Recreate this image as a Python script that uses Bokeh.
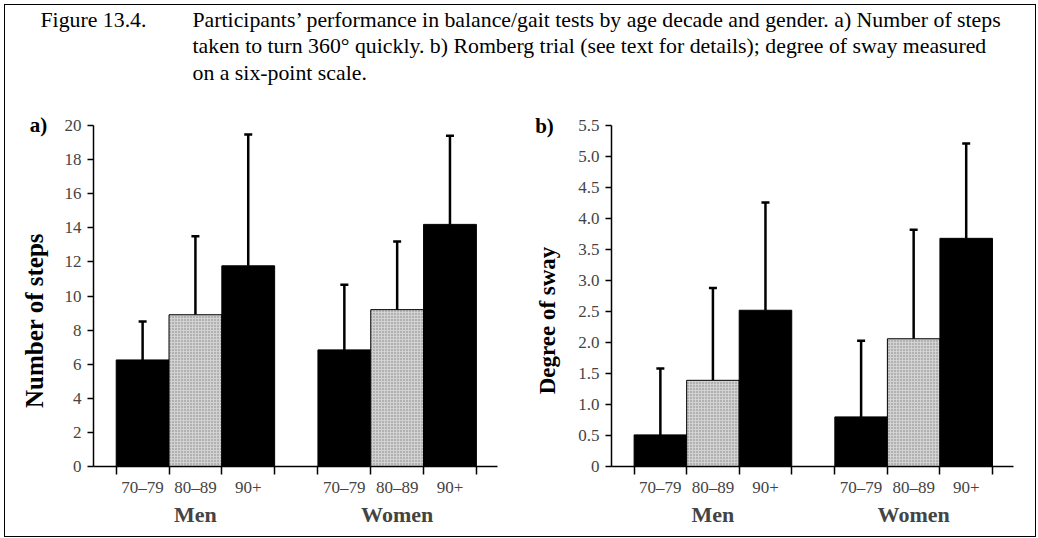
import math
from bokeh.plotting import figure
from bokeh.models import (Range1d, FixedTicker, LinearAxis, Whisker, TeeHead,
                          ColumnDataSource)
from bokeh.layouts import column, row
from bokeh.embed import file_html
from bokeh.resources import INLINE
from bokeh.core.properties import value

# ---------------- data ----------------
GROUPS = ["Men", "Women"]
AGES = ["70–79", "80–89", "90+"]
STEPS_MEAN = [6.25, 8.9, 11.77, 6.84, 9.2, 14.2]
STEPS_UPPER = [8.5, 13.5, 19.47, 10.66, 13.2, 19.4]
SWAY_MEAN = [0.51, 1.39, 2.52, 0.80, 2.06, 3.68]
SWAY_UPPER = [1.58, 2.88, 4.26, 2.03, 3.82, 5.21]
STEPS_TICKS = [0, 2, 4, 6, 8, 10, 12, 14, 16, 18, 20]
STEPS_TICK_LABELS = ["0", "2", "4", "6", "8", "10", "12", "14", "16", "18", "20"]
SWAY_TICKS = [0, 0.5, 1.0, 1.5, 2.0, 2.5, 3.0, 3.5, 4.0, 4.5, 5.0, 5.5]
SWAY_TICK_LABELS = ["0", "0.5", "1.0", "1.5", "2.0", "2.5", "3.0", "3.5",
                    "4.0", "4.5", "5.0", "5.5"]
CAPTION_HEAD = "Figure 13.4."
CAPTION_LINES = [
    "Participants’ performance in balance/gait tests by age decade and gender. a) Number of steps",
    "taken to turn 360° quickly. b) Romberg trial (see text for details); degree of sway measured",
    "on a six-point scale.",
]

SERIF = "Liberation Serif"
GAP = 0.82
PAD_L = 0.43
PAD_R = 0.40
BAR_COLORS = ["black", "#d2d2d2", "black"]
BAR_HATCH = ["blank", "dot", "blank"]
PANEL_H = 431
CAP_H = 100
SIDE_W = 55


def style_fig(p):
    p.grid.visible = False
    p.outline_line_color = None
    p.background_fill_color = "white"
    p.border_fill_color = "white"


def positions():
    xs, fills, hatches, edges, centers = [], [], [], [], []
    for g in range(len(GROUPS)):
        start = g * (len(AGES) + GAP)
        for i in range(len(AGES)):
            x = start + i
            xs.append(x)
            fills.append(BAR_COLORS[i])
            hatches.append(BAR_HATCH[i])
            edges.append(x - 0.5)
        edges.append(start + len(AGES) - 0.5)
        centers.append(start + (len(AGES) - 1) / 2)
    return xs, fills, hatches, edges, centers


def make_side(letter, ylabel, letter_xy, label_xy, label_size):
    s = figure(width=SIDE_W, height=PANEL_H, x_range=Range1d(0, SIDE_W),
               y_range=Range1d(PANEL_H, 0), x_axis_type=None, y_axis_type=None,
               output_backend="svg", toolbar_location=None, min_border=0)
    if "frame_align" in s.properties():
        s.frame_align = False
    style_fig(s)
    s.text(x=[letter_xy[0]], y=[letter_xy[1]], text=[letter],
           text_font=value(SERIF), text_font_style="bold",
           text_font_size="21px", text_align="center", text_baseline="middle")
    s.text(x=[label_xy[0]], y=[label_xy[1]], text=[ylabel], angle=math.pi / 2,
           text_font=value(SERIF), text_font_style="bold",
           text_font_size=label_size, text_align="center",
           text_baseline="middle")
    return s


def make_panel(mean, upper, yticks, ylabels, ymax, mb_left, mb_right, mb_top):
    xs, fills, hatches, edges, group_centers = positions()
    x0 = xs[0] - 0.5 - PAD_L
    x1 = xs[-1] + 0.5 + PAD_R
    p = figure(width=460, height=PANEL_H, x_range=Range1d(x0, x1),
               y_range=Range1d(0, ymax), output_backend="svg",
               toolbar_location=None, min_border_left=mb_left,
               min_border_right=mb_right, min_border_top=mb_top,
               min_border_bottom=70)
    style_fig(p)

    src = ColumnDataSource(dict(x=xs, mean=mean, upper=upper, fill=fills,
                                hatch=hatches))
    p.vbar(x="x", top="mean", bottom=0, width=1.0, source=src,
           fill_color="fill", line_color="black", line_width=1,
           hatch_pattern="hatch", hatch_color="#808080", hatch_scale=3,
           hatch_weight=1)
    w = Whisker(base="x", upper="upper", lower="mean", source=src,
                line_width=2.5, line_color="black",
                upper_head=TeeHead(size=8, line_width=2.5, line_color="black"),
                lower_head=None)
    p.add_layout(w)

    ya = p.yaxis[0]
    ya.ticker = FixedTicker(ticks=yticks, minor_ticks=[])
    ya.major_label_overrides = {t: l for t, l in zip(yticks, ylabels)}
    ya.major_tick_out = 6
    ya.major_tick_in = 0
    ya.minor_tick_out = 0
    ya.minor_tick_in = 0
    ya.axis_line_width = 1.5
    ya.major_tick_line_width = 1.5
    ya.major_label_text_font = SERIF
    ya.major_label_text_font_size = "17px"
    ya.major_label_standoff = 6

    xa = p.xaxis[0]
    xa.ticker = FixedTicker(ticks=xs, minor_ticks=edges)
    xa.major_label_overrides = {x: AGES[i % len(AGES)] for i, x in enumerate(xs)}
    xa.major_tick_out = 0
    xa.major_tick_in = 0
    xa.minor_tick_out = 8
    xa.minor_tick_in = 0
    xa.minor_tick_line_width = 1.5
    xa.axis_line_width = 1.5
    xa.major_label_text_font = SERIF
    xa.major_label_text_font_size = "17px"
    xa.major_label_standoff = 3

    ga = LinearAxis(ticker=FixedTicker(ticks=group_centers, minor_ticks=[]),
                    major_label_overrides={c: g for c, g in zip(group_centers, GROUPS)},
                    axis_line_color=None, major_tick_line_color=None,
                    minor_tick_line_color=None, major_tick_out=0,
                    major_tick_in=0, minor_tick_out=0, minor_tick_in=0,
                    major_label_text_font=SERIF,
                    major_label_text_font_style="bold",
                    major_label_text_font_size="22px",
                    major_label_standoff=2)
    p.add_layout(ga, "below")
    return p


side_a = make_side("a)", "Number of steps", (33, 19), (29, 215), "25px")
pa = make_panel(STEPS_MEAN, STEPS_UPPER, STEPS_TICKS, STEPS_TICK_LABELS, 20,
                33, 23, 20)
side_b = make_side("b)", "Degree of sway", (24, 20), (27, 215), "23px")
pb = make_panel(SWAY_MEAN, SWAY_UPPER, SWAY_TICKS, SWAY_TICK_LABELS, 5.5,
                34, 22, 19)

cap = figure(width=1030, height=CAP_H, x_range=Range1d(0, 1030),
             y_range=Range1d(CAP_H, 0), x_axis_type=None, y_axis_type=None,
             output_backend="svg", toolbar_location=None, min_border=0)
style_fig(cap)
cap_x = [35] + [187] * len(CAPTION_LINES)
cap_y = [14] + [14 + 26.5 * i for i in range(len(CAPTION_LINES))]
cap.text(x=cap_x, y=cap_y, text=[CAPTION_HEAD] + CAPTION_LINES,
         text_font=value(SERIF), text_font_size="21.8px",
         text_baseline="middle", text_align="left", text_color="black")

layout = column(cap, row(side_a, pa, side_b, pb),
                styles={"border": "1px solid black", "margin": "4px 0 0 4px"})

open("out.html", "w").write(file_html(layout, INLINE))
